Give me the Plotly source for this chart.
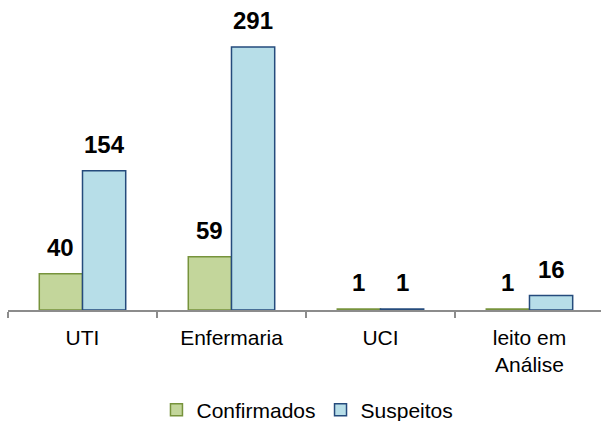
import plotly.graph_objects as go

categories = ["UTI", "Enfermaria", "UCI", "leito em<br>Análise"]
confirmados = [40, 59, 1, 1]
suspeitos = [154, 291, 1, 16]

FONT = "Arial, Liberation Sans, sans-serif"

fig = go.Figure()
fig.add_trace(go.Bar(
    name="Confirmados", x=categories, y=confirmados,
    marker=dict(color="#C3D69B", line=dict(color="#77933C", width=1.5)),
))
fig.add_trace(go.Bar(
    name="Suspeitos", x=categories, y=suspeitos,
    marker=dict(color="#B7DEE8", line=dict(color="#254B7C", width=1.5)),
))

for i, c in enumerate(categories):
    for vals, off in ((confirmados, -0.145), (suspeitos, 0.145)):
        fig.add_annotation(
            x=i + off, y=vals[i], xref="x", yref="y",
            text=f"<b>{vals[i]}</b>", showarrow=False,
            yanchor="bottom", yshift=11,
            font=dict(family=FONT, size=24, color="black"),
        )

fig.update_layout(
    width=601, height=421,
    margin=dict(l=8, r=0, t=10, b=111, autoexpand=False),
    plot_bgcolor="white", paper_bgcolor="white",
    barmode="group", bargap=0.42, bargroupgap=0,
    font=dict(family=FONT, size=21, color="black"),
    showlegend=True,
    legend=dict(orientation="h", x=0.505, xanchor="center", y=-0.265, yanchor="top",
                font=dict(size=21), itemwidth=30, tracegroupgap=0),
    xaxis=dict(
        showline=True, linecolor="#8C8C8C", linewidth=1.5,
        ticks="outside", tickson="boundaries", ticklen=6, tickcolor="#8C8C8C",
        tickwidth=1.5, tickfont=dict(size=21), range=[-0.5, 3.48], automargin=False,
        ticklabelstandoff=8,
    ),
    yaxis=dict(visible=False, range=[0, 332]),
)

fig.write_html("out.html", config={"displayModeBar": False},
               post_script="document.body.style.margin='0';document.body.style.overflow='hidden';")
